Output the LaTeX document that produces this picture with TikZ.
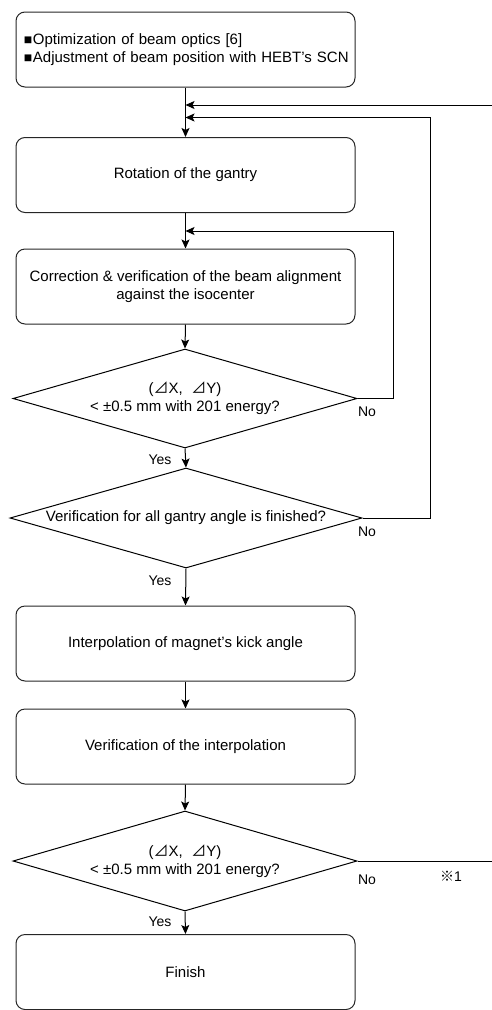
\documentclass[tikz,border=0pt]{standalone}
\usepackage{fontspec}
\setmainfont{Liberation Sans}
\newfontfamily\cjk{Noto Sans CJK JP}
\usetikzlibrary{shapes.geometric,arrows.meta}
\begin{document}
\begin{tikzpicture}[x=1pt,y=-1pt,
  font=\fontsize{15}{18}\selectfont,
  box/.style={draw=black!85,line width=1pt,rounded corners=9pt,minimum width=339pt,minimum height=75pt,align=center,inner sep=0pt},
  dec/.style={draw=black,line width=1pt,shape=diamond,shape aspect=3.5,inner sep=0pt,align=center},
  conn/.style={line width=1pt,-{Stealth[length=9pt,width=8pt,inset=2pt]}},
  wire/.style={line width=1pt},
  lab/.style={font=\fontsize{14}{16}\selectfont,inner sep=0pt}]
\useasboundingbox (0,0) rectangle (492,1010);
\node[box,align=left,text width=339pt] (b1) at (185.5,49.5) {\hspace*{8pt}{\fontsize{14}{14}\selectfont\raisebox{0.2pt}{■}}\hspace{0.5pt}Optimization of beam optics [6]\\\hspace*{8pt}{\fontsize{14}{14}\selectfont\raisebox{0.2pt}{■}}\hspace{0.5pt}Adjustment of beam position with HEBT's SCN};
\node[box] (b2) at (185.5,175) {Rotation of the gantry};
\node[box] (b3) at (185.5,286.5) {Correction \& verification of the beam alignment\\against the isocenter};
\node[dec,minimum width=344pt,minimum height=99pt] (d1) at (185,398.5) {({\cjk ⊿}X,\ \ {\cjk ⊿}Y)\\< ±0.5 mm with 201 energy?};
\node[dec,minimum width=352pt,minimum height=100pt] (d2) at (186,518) {Verification for all gantry angle is finished?};
\node[box] (b4) at (185.5,643.5) {Interpolation of magnet's kick angle};
\node[box] (b5) at (185.5,746.5) {Verification of the interpolation};
\node[dec,minimum width=344pt,minimum height=100pt] (d3) at (185,861) {({\cjk ⊿}X,\ \ {\cjk ⊿}Y)\\< ±0.5 mm with 201 energy?};
\node[box] (b6) at (185.5,972) {Finish};
% coordinates
\coordinate (in1) at (185.5,105);
\coordinate (in2) at (185.5,117.5);
\coordinate (in3) at (185.5,231);
\coordinate (e1) at (492,105);
\coordinate (e3) at (492,861);
\coordinate (k1) at (393,231);
\coordinate (k2) at (430,117.5);
% connectors
\draw[conn] (b1.south) -- (b2.north);
\draw[conn] (b2.south) -- (b3.north);
\draw[conn] (b3.south) -- (d1.north);
\draw[conn] (d1.south) -- (d2.north);
\draw[conn] (d2.south) -- (b4.north);
\draw[conn] (b4.south) -- (b5.north);
\draw[conn] (b5.south) -- (d3.north);
\draw[conn] (d3.south) -- (b6.north);
\draw[conn] (e1) -- (in1);
\draw[conn] (d2.east) -| (k2) -- (in2);
\draw[conn] (d1.east) -| (k1) -- (in3);
\draw[wire] (d3.east) -- (e3);
% labels
\node[lab] (y1) at (160,460) {Yes};
\node[lab] (y2) at (160,581) {Yes};
\node[lab] (y3) at (160,922) {Yes};
\node[lab] (n1) at (367,412) {No};
\node[lab] (n2) at (367,532) {No};
\node[lab] (n3) at (367,880) {No};
\node[lab] (r1) at (451,876) {{\cjk ※}1};
\end{tikzpicture}
\end{document}
